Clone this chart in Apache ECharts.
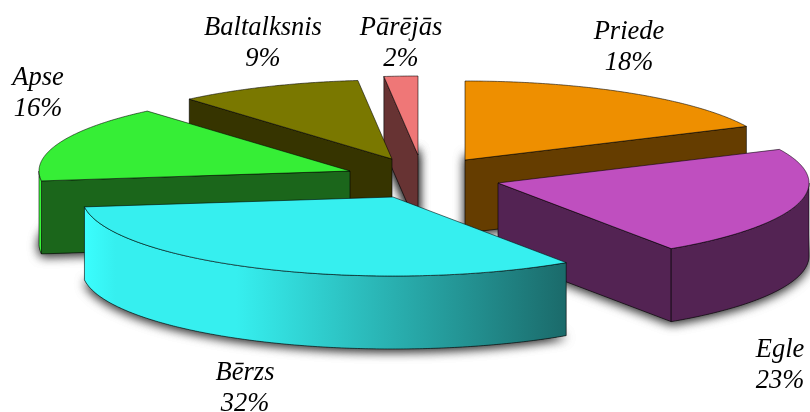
<!DOCTYPE html>
<html>
<head>
<meta charset="utf-8">
<style>html,body{margin:0;padding:0;background:#fff}#c{width:810px;height:412px}</style>
<script src="https://cdn.jsdelivr.net/npm/echarts@6/dist/echarts.min.js"></script>
</head>
<body>
<div id="c"></div>
<script>
const categories = ['Priede', 'Egle', 'Bērzs', 'Apse', 'Baltalksnis', 'Pārējās'];
// slice sizes
const values = [18, 22.6, 32.4, 15.7, 9.55, 1.75];
// percentages as printed on the labels
const percentLabels = ['18%', '23%', '32%', '16%', '9%', '2%'];

// styling and layout, kept apart from the data
const topColors = ['#EE8F00', '#BF4FBF', '#36EFEF', '#36EE36', '#7A7800', '#EF7777'];
const sideColors = ['#653D00', '#532353', '#1B6B6B', '#1B661B', '#363400', '#673333'];
const sliceCenters = [[465, 160], [498, 183], [393, 197], [350, 171], [392, 159], [418, 155]];
const paintRanks = [2, 3, 5, 4, 1, 0];
const labelCenters = [[629, 48], [780, 366], [245, 389], [38, 94], [263, 44], [401, 44]];
const RX = 311, RY = 79, DEPTH = 73;

const total = values.reduce((a, b) => a + b, 0);
const RAD = Math.PI / 180;
function slicePoint(i, deg, drop) {
  const c = sliceCenters[i];
  return [c[0] + RX * Math.sin(deg * RAD), c[1] - RY * Math.cos(deg * RAD) + drop];
}
function arc(i, a, b, drop) {
  const pts = [];
  const n = Math.max(2, Math.ceil(Math.abs(b - a) * 2));
  for (let k = 0; k <= n; k++) pts.push(slicePoint(i, a + (b - a) * k / n, drop));
  return pts;
}
function sliceAngles(i) {
  let before = 0;
  for (let k = 0; k < i; k++) before += values[k];
  return [before / total * 360, (before + values[i]) / total * 360];
}
function sideFaces(i) {
  const [a, b] = sliceAngles(i);
  const c = sliceCenters[i];
  const apexBot = [c[0], c[1] + DEPTH];
  const faces = [];
  const cut = (deg) => ({
    kind: 'cut',
    points: [c, slicePoint(i, deg, 0), slicePoint(i, deg, DEPTH), apexBot]
  });
  if (Math.sin(a * RAD) < -1e-6) faces.push(cut(a));
  if (Math.sin(b * RAD) > 1e-6) faces.push(cut(b));
  const s = Math.max(a, 90), e = Math.min(b, 270);
  if (e > s) {
    faces.push({ kind: 'arc', points: arc(i, s, e, 0).concat(arc(i, e, s, DEPTH)) });
  }
  return faces;
}
function arcFill(i) {
  const c = sliceCenters[i];
  return {
    type: 'linear', global: true,
    x: c[0] - RX, y: 0, x2: c[0] + RX * 0.55, y2: 0,
    colorStops: [
      { offset: 0, color: echarts.color.lift(topColors[i], -0.1) },
      { offset: 0.07, color: topColors[i] },
      { offset: 0.32, color: topColors[i] },
      { offset: 1, color: sideColors[i] }
    ]
  };
}
const dataRows = categories.map((name, i) => ({ name, value: values[i] }));

const chart = echarts.init(document.getElementById('c'), null, { renderer: 'canvas' });
chart.setOption({
  animation: false,
  backgroundColor: '#ffffff',
  series: [
    {
      type: 'custom', name: 'shadow', coordinateSystem: 'none', silent: true, z: 1, data: dataRows,
      renderItem(params) {
        const i = params.dataIndex;
        const [a, b] = sliceAngles(i);
        const c = sliceCenters[i];
        const pts = [[c[0], c[1] + DEPTH]].concat(arc(i, a, b, DEPTH));
        const copies = values[i] < 5 ? 3 : 2;
        const kids = [];
        for (let k = 0; k < copies; k++) {
          kids.push({
            type: 'polygon', z2: paintRanks[i],
            shape: { points: pts },
            style: { fill: '#555', shadowBlur: 11, shadowColor: 'rgba(0,0,0,0.6)', shadowOffsetX: 0, shadowOffsetY: 2 }
          });
        }
        return { type: 'group', children: kids };
      }
    },
    {
      type: 'custom', name: 'slices', coordinateSystem: 'none', silent: true, z: 2, data: dataRows,
      renderItem(params) {
        const i = params.dataIndex;
        const [a, b] = sliceAngles(i);
        const base = paintRanks[i] * 10;
        const kids = sideFaces(i).map((f, k) => ({
          type: 'polygon', z2: base + k,
          shape: { points: f.points },
          style: {
            fill: f.kind === 'arc' ? arcFill(i) : sideColors[i],
            stroke: 'rgba(0,0,0,0.75)', lineWidth: 0.8, lineJoin: 'round'
          }
        }));
        kids.push({
          type: 'polygon', z2: base + 5,
          shape: { points: [sliceCenters[i]].concat(arc(i, a, b, 0)) },
          style: { fill: topColors[i], stroke: 'rgba(0,0,0,0.7)', lineWidth: 0.8, lineJoin: 'round' }
        });
        return { type: 'group', children: kids };
      }
    },
    {
      type: 'custom', name: 'labels', coordinateSystem: 'none', silent: true, z: 3, data: dataRows,
      renderItem(params) {
        const i = params.dataIndex;
        return {
          type: 'text',
          x: labelCenters[i][0], y: labelCenters[i][1],
          style: {
            text: categories[i] + '\n' + percentLabels[i],
            fontFamily: '"Liberation Serif", serif', fontStyle: 'italic', fontSize: 26.5,
            lineHeight: 31, fill: '#000', align: 'center', verticalAlign: 'middle'
          }
        };
      }
    }
  ]
});
</script>
</body>
</html>
